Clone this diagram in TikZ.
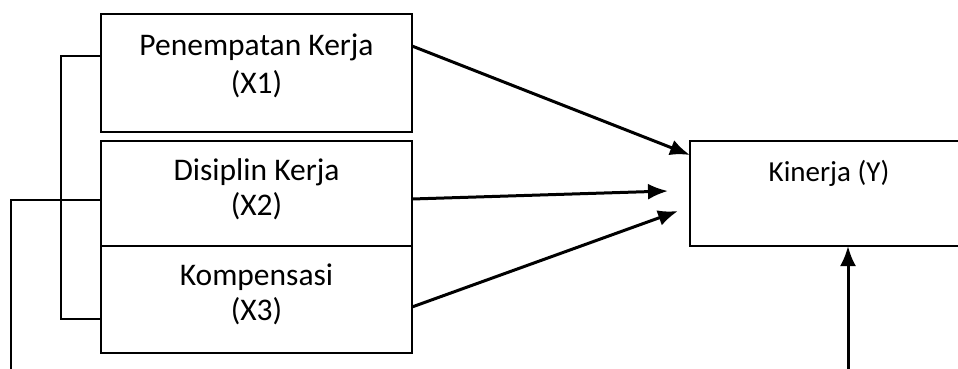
\documentclass[tikz,border=0pt]{standalone}
\usepackage{fontspec}
\setmainfont{Carlito}
\usetikzlibrary{positioning,arrows.meta}

\begin{document}
\begin{tikzpicture}[x=1pt, y=-1pt, >={Latex[length=20pt,width=16pt]}, line width=3pt,
    every node/.style={align=center},
    box/.style={draw, line width=2.6pt, outer sep=0pt, inner sep=0pt, minimum width=311pt},
    lbl/.style={anchor=base, font=\fontsize{31.5}{38}\selectfont},
    link/.style={line width=1.8pt}]
    \useasboundingbox (0,0) rectangle (958,369);
    \node[box, minimum height=118pt] (x1) at (256.5,73) {};
    \node[box, minimum height=105pt, below=9pt of x1] (x2) {};
    \node[box, minimum height=107pt, below=0pt of x2] (x3) {};
    \node[box, minimum width=310pt, minimum height=105pt] (y) at (845,193.5) {};

    \node[lbl] (x1txt) at (256.5,93) {Penempatan Kerja\\(X1)};
    \node[lbl, font=\fontsize{31.5}{35}\selectfont] (x2txt) at (256.5,215) {Disiplin Kerja\\(X2)};
    \node[lbl, font=\fontsize{31.5}{35}\selectfont] (x3txt) at (256.5,320) {Kompensasi\\(X3)};
    \node[lbl, font=\fontsize{29}{34}\selectfont] (ytxt) at (829,181) {Kinerja (Y)};

    \coordinate (t1) at (690,155);
    \coordinate (t2) at (668,191);
    \coordinate (t3) at (678,211);
    \coordinate (ybot) at (848,375);
    \coordinate (lbot) at (11,375);

    \draw[->] ([yshift=27pt]x1.east) -- (t1);
    \draw[->] ([yshift=-5.5pt]x2.east) -- (t2);
    \draw[->] ([yshift=-7.5pt]x3.east) -- (t3);
    \draw[->] (ybot) -- (ybot |- y.south);
    \draw[link] ([yshift=17pt]x1.west) -- ++(-40,0) |- ([yshift=-19.5pt]x3.west);
    \draw[link] ([yshift=-6.5pt]x2.west) -| (lbot);
\end{tikzpicture}
\end{document}
